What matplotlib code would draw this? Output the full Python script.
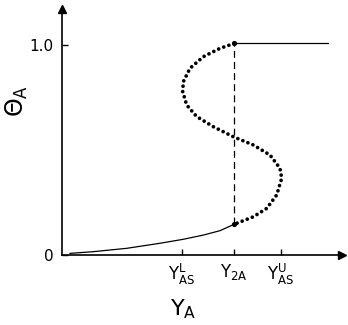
import matplotlib
matplotlib.use("Agg")
import matplotlib.pyplot as plt

plt.rcParams['font.family'] = ['Liberation Sans Narrow', 'DejaVu Sans']
plt.rcParams['mathtext.default'] = 'regular'
plt.rcParams['lines.scale_dashes'] = False

# lower stable branch (solid)
low_x = [0.08, 0.313, 0.647, 0.98, 1.213, 1.413, 1.58, 1.72]
low_y = [0.008, 0.016, 0.032, 0.056, 0.075, 0.095, 0.116, 0.146]
# upper stable branch (solid)
up_x = [1.72, 2.66]
up_y = [1.007, 1.007]
# S-shaped branch (dotted), from top to bottom
s_x = [1.72, 1.58, 1.413, 1.28, 1.213, 1.207, 1.247, 1.347, 1.513, 1.713,
       1.913, 2.08, 2.18, 2.197, 2.147, 2.047, 1.913, 1.72]
s_y = [1.007, 0.984, 0.944, 0.889, 0.825, 0.778, 0.714, 0.659, 0.611, 0.563,
       0.524, 0.476, 0.413, 0.365, 0.286, 0.222, 0.182, 0.146]
# jump line
jump_x = [1.72, 1.72]
jump_y = [0.146, 1.007]

xticks = [1.2, 1.72, 2.19]
xtick_labels = [r'$Y^{L}_{AS}$', r'$Y_{2A}$', r'$Y^{U}_{AS}$']
yticks = [0, 1.0]
ytick_labels = ['0', '1.0']

fig = plt.figure(figsize=(3.48, 3.25), dpi=100)
ax = fig.add_axes([0, 0, 1, 1])
ax.set_xlim(-0.62, 2.86)
ax.set_ylim(-0.333, 1.214)

for s in ['top', 'right']:
    ax.spines[s].set_visible(False)
ax.spines['left'].set_position(('data', 0))
ax.spines['bottom'].set_position(('data', 0))
ax.spines['left'].set_bounds(0, 1.17)
ax.spines['bottom'].set_bounds(0, 2.8)
ax.spines['left'].set_linewidth(1.2)
ax.spines['bottom'].set_linewidth(1.2)
ax.plot([0], [1.17], marker='^', color='black', markersize=6, clip_on=False)
ax.plot([2.8], [0], marker='>', color='black', markersize=6, clip_on=False)

ax.set_xticks(xticks)
ax.set_xticklabels(xtick_labels, fontsize=12)
ax.set_yticks(yticks)
ax.set_yticklabels(ytick_labels, fontsize=11)
ax.tick_params(axis='both', direction='in', length=4, width=1)
ax.tick_params(axis='x', pad=5)
ax.tick_params(axis='y', pad=6)

ax.plot(low_x, low_y, color='black', lw=0.9)
ax.plot(up_x, up_y, color='black', lw=0.9)
ax.plot(jump_x, jump_y, color='black', lw=0.9, linestyle=(0, (5, 3)))
ax.plot(s_x, s_y, color='black', lw=2.7, linestyle=(0, (0.01, 3.9)),
        dash_capstyle='round', solid_capstyle='round')
ax.plot(jump_x, jump_y, 'o', color='black', markersize=2.7)

ax.set_ylabel(r'$\Theta_A$', fontsize=17, rotation=90)
ax.yaxis.set_label_coords(0.085, 0.69)
ax.set_xlabel(r'$Y_A$', fontsize=16)
ax.xaxis.set_label_coords(0.526, 0.085)

fig.savefig('out.png', dpi=100)
